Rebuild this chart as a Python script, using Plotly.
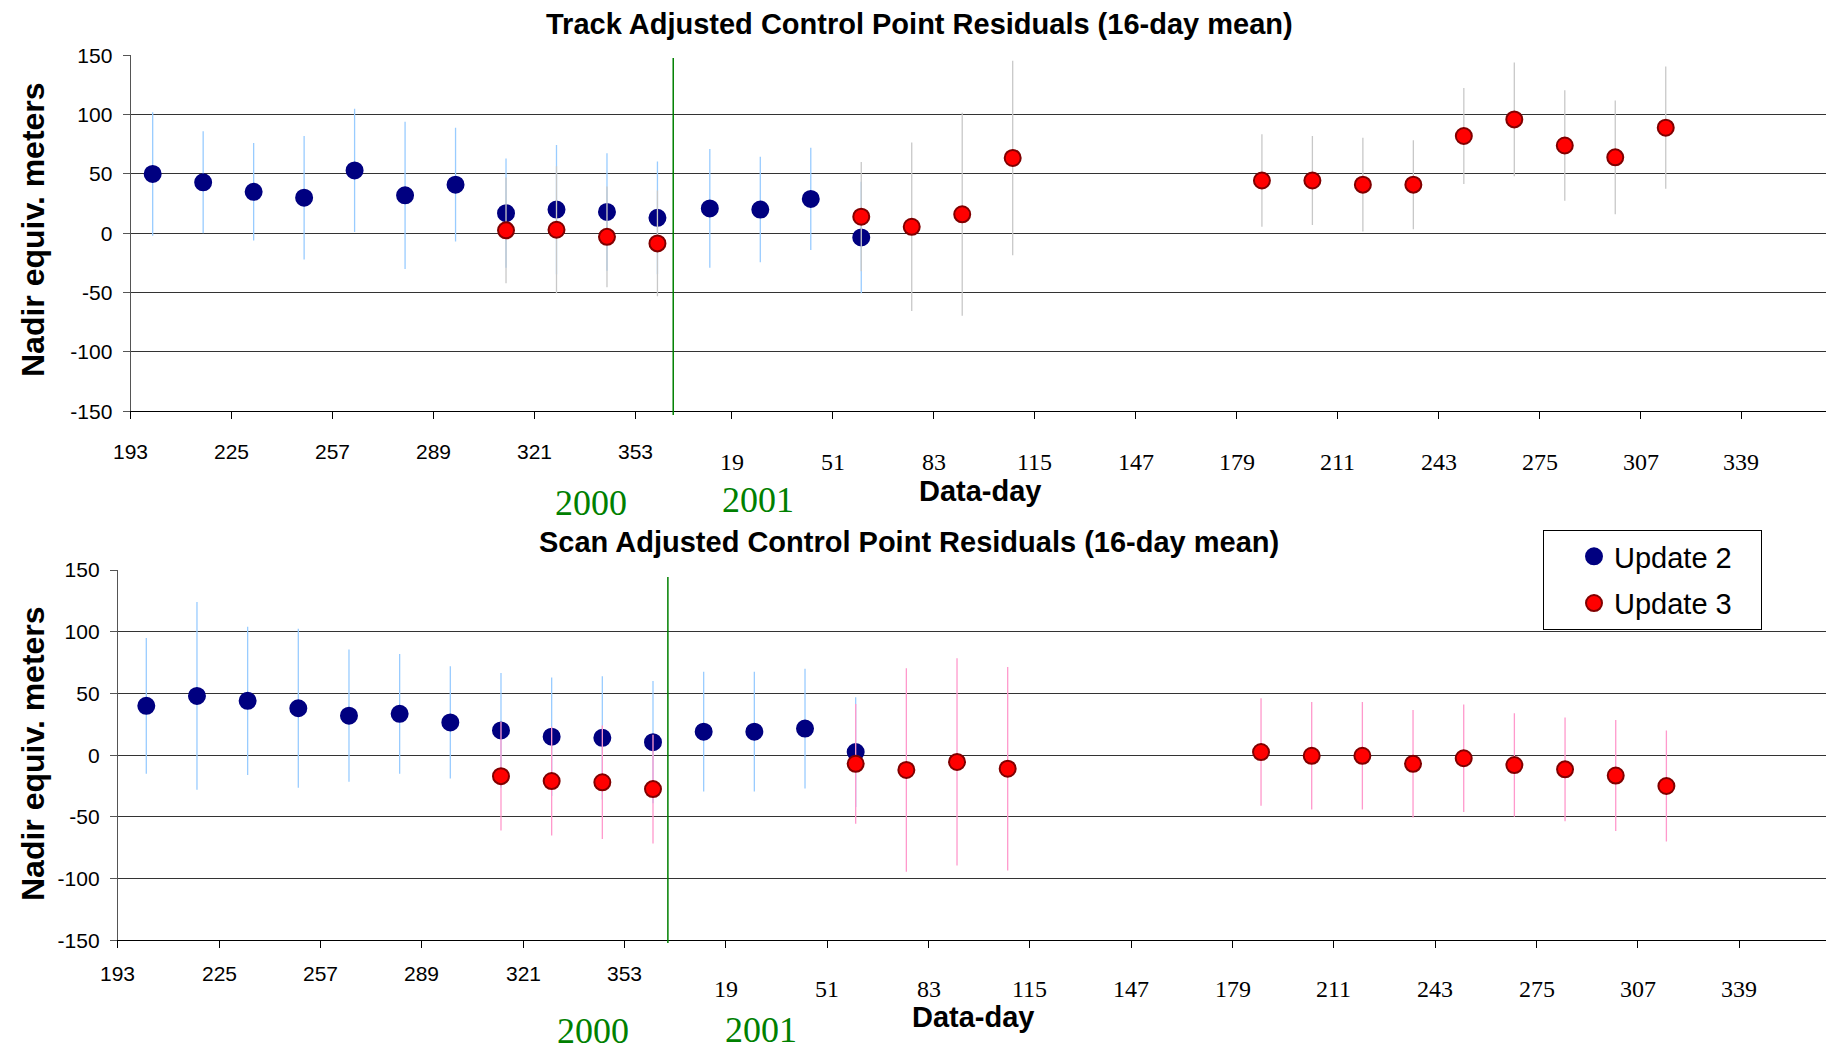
import plotly.graph_objects as go

W, H = 1829, 1051

# ---------------- DATA ----------------
# x-axis tick labels (data-day)
TICKS_2000 = [193, 225, 257, 289, 321, 353]
TICKS_2001 = [19, 51, 83, 115, 147, 179, 211, 243, 275, 307, 339]

# Top panel: Track Adjusted Control Point Residuals
TOP_U2_DAYS_2000 = [200, 216, 232, 248, 264, 280, 296, 312, 328, 344, 360]
TOP_U2_VALS_2000 = [50, 43, 35, 30, 53, 32, 41, 17, 20, 18, 13]
TOP_U2_ERR_2000 = [52, 43, 41, 52, 52, 62, 48, 46, 54.5, 49.5, 47.5]
TOP_U2_DAYS_2001 = [12, 28, 44, 60]
TOP_U2_VALS_2001 = [21, 20, 29, -3.5]
TOP_U2_ERR_2001 = [50, 44.5, 43, 47]

TOP_U3_DAYS_2000 = [312, 328, 344, 360]
TOP_U3_VALS_2000 = [2.5, 3, -3, -8.5]
TOP_U3_ERR_2000 = [44.5, 53.5, 42.5, 44.5]
TOP_U3_DAYS_2001 = [60, 76, 92, 108, 187, 203, 219, 235, 251, 267, 283, 299, 315]
TOP_U3_VALS_2001 = [14, 5.5, 16, 63.5, 44.5, 44.5, 41, 41, 82, 96, 74, 64, 89]
TOP_U3_ERR_2001 = [46, 71, 85.5, 82, 39, 37.5, 39.5, 37.5, 40.5, 48, 46.5, 48, 51.5]

# Bottom panel: Scan Adjusted Control Point Residuals
BOT_U2_DAYS_2000 = [202, 218, 234, 250, 266, 282, 298, 314, 330, 346, 362]
BOT_U2_VALS_2000 = [40, 48, 44, 38, 32, 33.5, 26.5, 20, 15, 14, 10.5]
BOT_U2_ERR_2000 = [55, 76, 60, 64.5, 53.5, 48.5, 45.5, 46.5, 48, 50, 49.5]
BOT_U2_DAYS_2001 = [12, 28, 44, 60]
BOT_U2_VALS_2001 = [19, 19, 21.5, 2.5]
BOT_U2_ERR_2001 = [48.5, 48.5, 48.5, 44.5]

BOT_U3_DAYS_2000 = [314, 330, 346, 362]
BOT_U3_VALS_2000 = [-17, -21, -22, -27.5]
BOT_U3_ERR_2000 = [44, 44, 46, 44]
BOT_U3_DAYS_2001 = [60, 76, 92, 108, 188, 204, 220, 236, 252, 268, 284, 300, 316]
BOT_U3_VALS_2001 = [-7, -12, -5.5, -11, 2.5, -0.5, -0.5, -7, -2.5, -8, -11.5, -16.5, -25]
BOT_U3_ERR_2001 = [48.5, 82.5, 84, 82.5, 43.5, 43.5, 43.5, 43.5, 43.5, 42, 42, 45, 45]

SERIES_NAMES = ["Update 2", "Update 3"]
Y_TICKS = [-150, -100, -50, 0, 50, 100, 150]
Y_TICK_TEXT = ["-150", "-100", "-50", "0", "50", "100", "150"]

# ---------------- LAYOUT PARAMETERS ----------------
TOP_OFFSET = 364.6   # continuous position of 2001 day 0 on the top axis
BOT_OFFSET = 366.0   # same for the bottom axis
TOP_XRANGE = [193, 730.4]
BOT_XRANGE = [193, 732.4]

SANS = "Liberation Sans, Arial, sans-serif"
SERIF = "Liberation Serif, Times New Roman, serif"

BLUE = "#000080"
RED = "#FF0000"
DARKRED = "#800000"
LIGHTBLUE = "#99CCFF"
GRAY = "#C8C8C8"
PINK = "#FF99CC"
GREEN = "#008000"


def py(px):
    return 1 - px / H


def px_x(px):
    return px / W


def cont(days2000, days2001, offset):
    return list(days2000) + [d + offset for d in days2001]


fig = go.Figure()


def add_series(xa, ya, days2000, days2001, vals2000, vals2001, errs2000, errs2001,
               offset, fill, outline, errcolor, name, showlegend, group):
    fig.add_trace(go.Scatter(
        x=cont(days2000, days2001, offset),
        y=list(vals2000) + list(vals2001),
        mode="markers",
        name=name,
        legendgroup=group,
        showlegend=showlegend,
        xaxis=xa, yaxis=ya,
        marker=dict(symbol="circle", size=16, color=fill,
                    line=dict(color=outline, width=2)),
        error_y=dict(type="data", symmetric=True,
                     array=list(errs2000) + list(errs2001),
                     color=errcolor, thickness=1.3, width=0),
    ))


# top panel
add_series("x", "y", TOP_U2_DAYS_2000, TOP_U2_DAYS_2001, TOP_U2_VALS_2000, TOP_U2_VALS_2001,
           TOP_U2_ERR_2000, TOP_U2_ERR_2001, TOP_OFFSET, BLUE, BLUE, LIGHTBLUE,
           SERIES_NAMES[0], False, "u2")
add_series("x", "y", TOP_U3_DAYS_2000, TOP_U3_DAYS_2001, TOP_U3_VALS_2000, TOP_U3_VALS_2001,
           TOP_U3_ERR_2000, TOP_U3_ERR_2001, TOP_OFFSET, RED, DARKRED, GRAY,
           SERIES_NAMES[1], False, "u3")
# bottom panel
add_series("x2", "y2", BOT_U2_DAYS_2000, BOT_U2_DAYS_2001, BOT_U2_VALS_2000, BOT_U2_VALS_2001,
           BOT_U2_ERR_2000, BOT_U2_ERR_2001, BOT_OFFSET, BLUE, BLUE, LIGHTBLUE,
           SERIES_NAMES[0] + "\u00a0\u00a0\u00a0", True, "u2")
add_series("x2", "y2", BOT_U3_DAYS_2000, BOT_U3_DAYS_2001, BOT_U3_VALS_2000, BOT_U3_VALS_2001,
           BOT_U3_ERR_2000, BOT_U3_ERR_2001, BOT_OFFSET, RED, DARKRED, PINK,
           SERIES_NAMES[1] + "\u00a0\u00a0\u00a0", True, "u3")


def xaxis_cfg(domain, rng, offset, anchor):
    return dict(
        domain=domain, range=rng, anchor=anchor, automargin=False,
        tickmode="array",
        tickvals=cont(TICKS_2000, TICKS_2001, offset),
        showticklabels=False,
        ticks="outside", ticklen=7, tickwidth=1, tickcolor="#000000",
        showline=True, linecolor="#000000", linewidth=1,
        showgrid=False, zeroline=False, fixedrange=True,
    )


def yaxis_cfg(domain, anchor):
    return dict(
        domain=domain, range=[-150, 150], anchor=anchor, automargin=False,
        tickmode="array", tickvals=Y_TICKS, ticktext=Y_TICK_TEXT,
        ticks="outside", ticklen=7, tickwidth=1, tickcolor="#555555",
        showline=True, linecolor="#555555", linewidth=1,
        showgrid=True, gridcolor="#333333", gridwidth=1,
        zeroline=False,
        tickfont=dict(family=SANS, size=21, color="#000000"),
        ticklabelstandoff=6,
        fixedrange=True,
    )


fig.update_layout(
    width=W, height=H, autosize=False,
    margin=dict(l=0, r=0, t=0, b=0, pad=0, autoexpand=False),
    paper_bgcolor="white", plot_bgcolor="white",
    xaxis=xaxis_cfg([px_x(130.6), px_x(1826)], TOP_XRANGE, TOP_OFFSET, "y"),
    yaxis=yaxis_cfg([py(411.3), py(55.3)], "x"),
    xaxis2=xaxis_cfg([px_x(117.8), px_x(1826)], BOT_XRANGE, BOT_OFFSET, "y2"),
    yaxis2=yaxis_cfg([py(940.3), py(570)], "x2"),
    showlegend=True,
    legend=dict(
        x=px_x(1543), y=py(530), xanchor="left", yanchor="top",
        bgcolor="white", bordercolor="#000000", borderwidth=1,
        font=dict(family=SANS, size=29, color="#000000"),
        traceorder="grouped", tracegroupgap=6, indentation=30,
        itemsizing="trace",
    ),
)

ann = []
# x tick labels
for xref, offset, y2000, y2001 in [("x", TOP_OFFSET, 451, 462),
                                   ("x2", BOT_OFFSET, 973, 989)]:
    for d in TICKS_2000:
        ann.append(dict(x=d, y=py(y2000), xref=xref, yref="paper", text=str(d),
                        showarrow=False, xanchor="center", yanchor="middle",
                        font=dict(family=SANS, size=21, color="#000000")))
    for d in TICKS_2001:
        ann.append(dict(x=d + offset, y=py(y2001), xref=xref, yref="paper", text=str(d),
                        showarrow=False, xanchor="center", yanchor="middle",
                        font=dict(family=SERIF, size=24, color="#000000")))

# titles, axis labels, year labels
texts = [
    ("Track Adjusted Control Point Residuals (16-day mean)", 919, 24, SANS, 29, "#000000", True),
    ("Scan Adjusted Control Point Residuals (16-day mean)", 909, 542, SANS, 29, "#000000", True),
    ("Data-day", 980, 491, SANS, 29, "#000000", True),
    ("Data-day", 973, 1017, SANS, 29, "#000000", True),
    ("2000", 591, 503, SERIF, 36, GREEN, False),
    ("2001", 758, 500, SERIF, 36, GREEN, False),
    ("2000", 593, 1031, SERIF, 36, GREEN, False),
    ("2001", 761, 1030, SERIF, 36, GREEN, False),
]
for t, x, y, fam, size, col, bold in texts:
    ann.append(dict(x=px_x(x), y=py(y), xref="paper", yref="paper",
                    text=f"<b>{t}</b>" if bold else t, showarrow=False,
                    xanchor="center", yanchor="middle",
                    font=dict(family=fam, size=size, color=col)))
for yc in (230, 754):
    ann.append(dict(x=px_x(33), y=py(yc), xref="paper", yref="paper",
                    text="<b>Nadir equiv. meters</b>", showarrow=False, textangle=-90,
                    xanchor="center", yanchor="middle",
                    font=dict(family=SANS, size=32, color="#000000")))
fig.update_layout(annotations=ann)

# green year-boundary lines
fig.add_shape(type="line", xref="x", yref="paper", x0=365, x1=365,
              y0=py(58), y1=py(415), line=dict(color=GREEN, width=1.5))
fig.add_shape(type="line", xref="x2", yref="paper", x0=366.7, x1=366.7,
              y0=py(577), y1=py(943), line=dict(color=GREEN, width=1.5))

fig.write_html("out.html", config={"responsive": False})
